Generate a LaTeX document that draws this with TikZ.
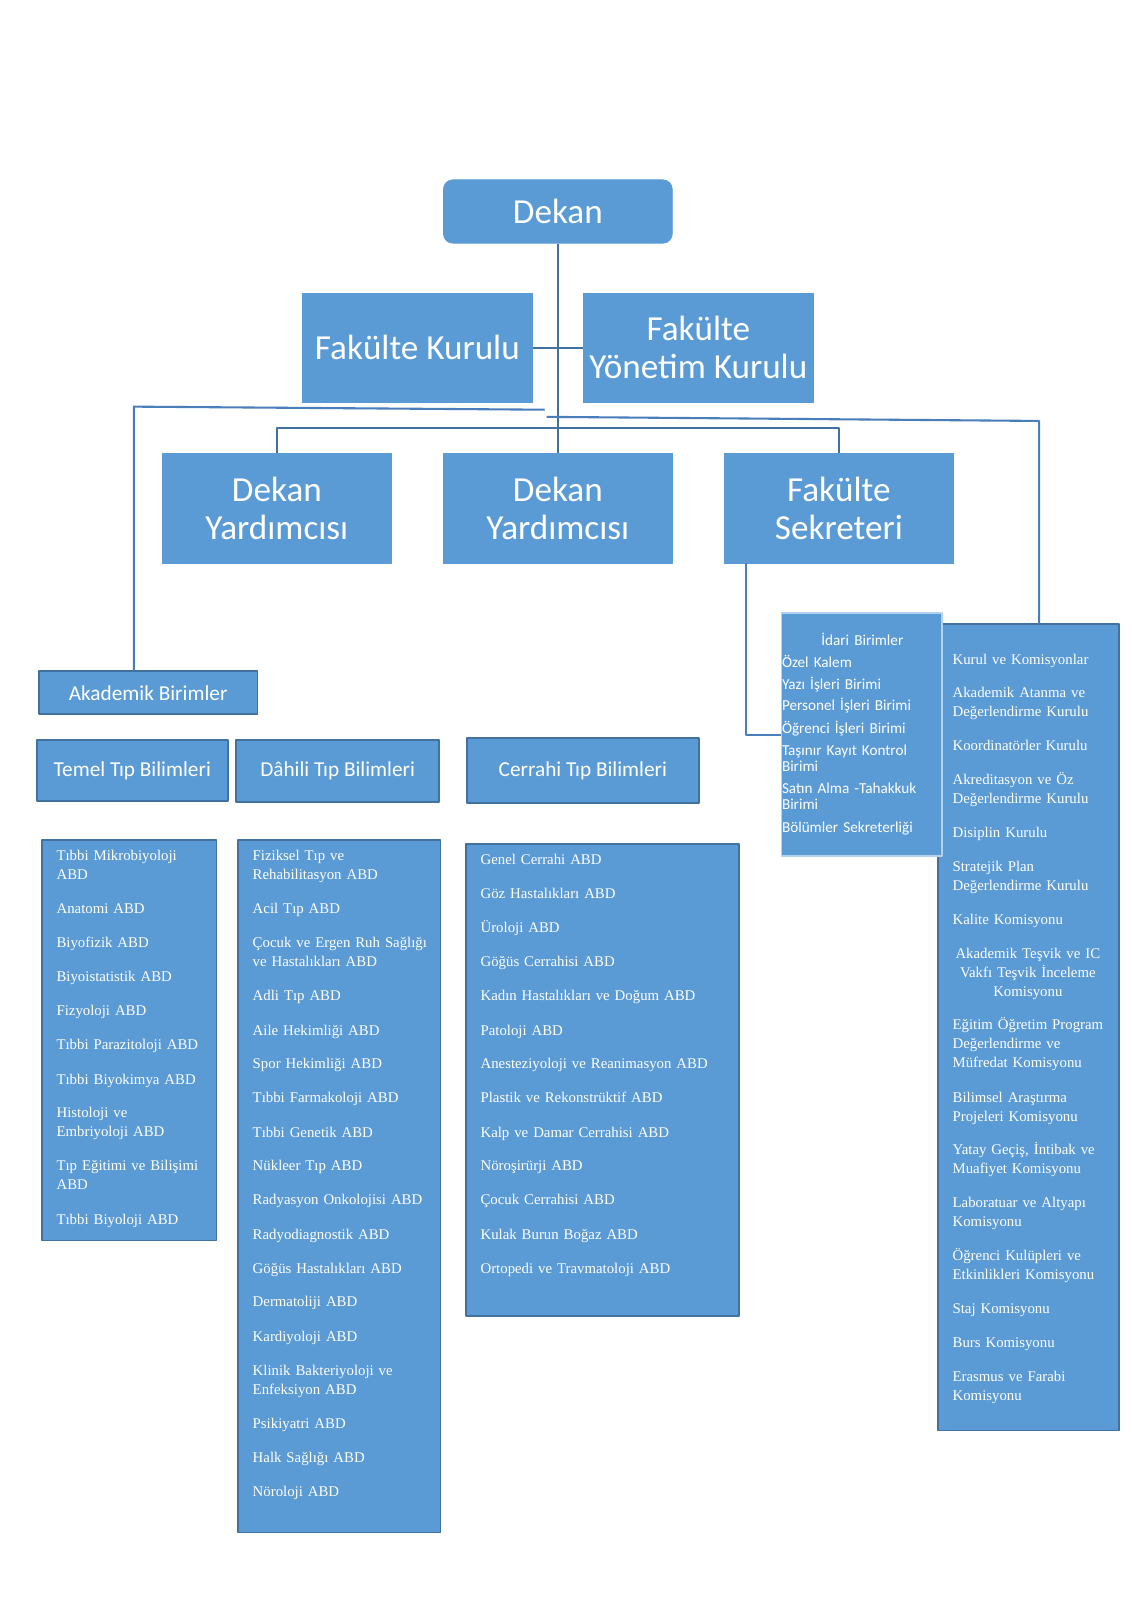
\documentclass[tikz,border=0pt]{standalone}
\usepackage{fontspec}
\setmainfont{Liberation Serif}
\newfontfamily\calibri{Carlito}
\newcommand\pxu{0.5378pt}
\definecolor{boxblue}{HTML}{5B9BD5}
\definecolor{edgeblue}{HTML}{41719C}
\definecolor{lineblue}{HTML}{4A7EBB}
\tikzset{
  box/.style={fill=boxblue, draw=boxblue, text=white, inner sep=0pt, align=center, font=\calibri\fontsize{18.5}{20}\selectfont},
  catbox/.style={fill=boxblue, draw=edgeblue, line width=0.9pt, text=white, inner sep=0pt, font=\calibri\fontsize{11.2}{13}\selectfont},
  listbox/.style={fill=boxblue, draw=edgeblue, line width=0.9pt, inner sep=0pt},
  item/.style={text=white, inner sep=0pt, anchor=base west, text width=150pt, align=left, font=\fontsize{7.8}{9.95}\selectfont},
  iditem/.style={text=white, inner sep=0pt, anchor=base west, text width=90pt, align=left, font=\calibri\fontsize{8}{8.6}\selectfont},
  tree/.style={draw=edgeblue, line width=0.9pt},
  acad/.style={draw=lineblue, line width=1.1pt}
}
\begin{document}
\begin{tikzpicture}[x=\pxu, y=-\pxu, line join=round]
\useasboundingbox (0,0) rectangle (1107,1566);
% top of the chart
\node[box, rounded corners=5pt, minimum width=224*\pxu, minimum height=62*\pxu] (dekan) at (546,207) {Dekan};
\node[box, minimum width=225*\pxu, minimum height=107*\pxu] (fkurul) at (408.5,340.5) {Fakülte Kurulu};
\node[box, minimum width=225*\pxu, minimum height=107*\pxu] (fyk) at (683.5,340.5) {Fakülte\\Yönetim Kurulu};
\node[box, minimum width=224*\pxu, minimum height=107*\pxu] (dy1) at (271,497.5) {Dekan\\Yardımcısı};
\node[box, minimum width=224*\pxu, minimum height=107*\pxu] (dy2) at (546,497.5) {Dekan\\Yardımcısı};
\node[box, minimum width=224*\pxu, minimum height=107*\pxu] (fsek) at (821,497.5) {Fakülte\\Sekreteri};
% academic units
\node[catbox, minimum width=214*\pxu, minimum height=42*\pxu] (akademik) at (145,678) {Akademik Birimler};
\node[catbox, minimum width=187*\pxu, minimum height=60*\pxu] (temel) at (129.5,754) {Temel Tıp Bilimleri};
\node[catbox, minimum width=199*\pxu, minimum height=61*\pxu] (dahili) at (330.5,754.5) {Dâhili Tıp Bilimleri};
\node[catbox, minimum width=227*\pxu, minimum height=64*\pxu] (cerrahi) at (570.5,754) {Cerrahi Tıp Bilimleri};
\node[listbox, minimum width=171*\pxu, minimum height=392*\pxu] (temelList) at (126.5,1018) {};
\node[listbox, minimum width=198*\pxu, minimum height=678*\pxu] (dahiliList) at (332,1161) {};
\node[listbox, minimum width=267*\pxu, minimum height=462*\pxu] (cerrahiList) at (589.5,1057) {};
% boards and administrative units
\node[listbox, minimum width=177*\pxu, minimum height=789*\pxu] (kurulList) at (1006.5,1005.5) {};
\node[listbox, draw=boxblue!45!white, minimum width=157*\pxu, minimum height=238*\pxu] (idariList) at (843.5,719) {};

\foreach \y/\t [count=\i] in {842/{Tıbbi Mikrobiyoloji\\ABD}, 894/{Anatomi ABD}, 927/{Biyofizik ABD},
  961/{Biyoistatistik ABD}, 994/{Fizyoloji ABD}, 1027/{Tıbbi Parazitoloji ABD}, 1061/{Tıbbi Biyokimya ABD},
  1094/{Histoloji ve\\Embriyoloji ABD}, 1146/{Tıp Eğitimi ve Bilişimi\\ABD}, 1198/{Tıbbi Biyoloji ABD}}
  \node[item] (temel\i) at (55,\y) {\t};
\foreach \y/\t [count=\i] in {842/{Fiziksel Tıp ve\\Rehabilitasyon ABD}, 894/{Acil Tıp ABD},
  927/{Çocuk ve Ergen Ruh Sağlığı\\ve Hastalıkları ABD}, 979/{Adli Tıp ABD}, 1013/{Aile Hekimliği ABD},
  1046/{Spor Hekimliği ABD}, 1079/{Tıbbi Farmakoloji ABD}, 1113/{Tıbbi Genetik ABD}, 1146/{Nükleer Tıp ABD},
  1179/{Radyasyon Onkolojisi ABD}, 1213/{Radyodiagnostik ABD}, 1246/{Göğüs Hastalıkları ABD},
  1279/{Dermatoliji ABD}, 1313/{Kardiyoloji ABD}, 1346/{Klinik Bakteriyoloji ve\\Enfeksiyon ABD},
  1398/{Psikiyatri ABD}, 1431/{Halk Sağlığı ABD}, 1465/{Nöroloji ABD}}
  \node[item] (dahili\i) at (247,\y) {\t};
\foreach \y/\t [count=\i] in {846/{Genel Cerrahi ABD}, 879/{Göz Hastalıkları ABD}, 913/{Üroloji ABD},
  946/{Göğüs Cerrahisi ABD}, 979/{Kadın Hastalıkları ve Doğum ABD}, 1013/{Patoloji ABD},
  1046/{Anesteziyoloji ve Reanimasyon ABD}, 1079/{Plastik ve Rekonstrüktif ABD},
  1113/{Kalp ve Damar Cerrahisi ABD}, 1146/{Nöroşirürji ABD}, 1179/{Çocuk Cerrahisi ABD},
  1213/{Kulak Burun Boğaz ABD}, 1246/{Ortopedi ve Travmatoloji ABD}}
  \node[item] (cerrahi\i) at (470,\y) {\t};
\foreach \y/\t [count=\i] in {650/{Kurul ve Komisyonlar}, 683/{Akademik Atanma ve\\Değerlendirme Kurulu},
  735/{Koordinatörler Kurulu}, 768/{Akreditasyon ve Öz\\Değerlendirme Kurulu}, 820/{Disiplin Kurulu},
  853/{Stratejik Plan\\Değerlendirme Kurulu}, 905/{Kalite Komisyonu},
  1008/{Eğitim Öğretim Program\\Değerlendirme ve\\Müfredat Komisyonu}, 1079/{Bilimsel Araştırma\\Projeleri Komisyonu},
  1130/{Yatay Geçiş, İntibak ve\\Muafiyet Komisyonu}, 1182/{Laboratuar ve Altyapı\\Komisyonu},
  1234/{Öğrenci Kulüpleri ve\\Etkinlikleri Komisyonu}, 1286/{Staj Komisyonu}, 1319/{Burs Komisyonu},
  1352/{Erasmus ve Farabi\\Komisyonu}}
  \node[item] (kurul\i) at (932,\y) {\t};
\node[item, anchor=base, text width=90pt, align=center] (kurulTesvik) at (1006,938) {Akademik Teşvik ve IC\\Vakfı Teşvik İnceleme\\Komisyonu};

\node[iditem, anchor=base, align=center] (idariTitle) at (844,631.5) {İdari Birimler};
\foreach \y/\t [count=\i] in {653.5/{Özel Kalem}, 674.5/{Yazı İşleri Birimi}, 695.5/{Personel İşleri Birimi},
  717.5/{Öğrenci İşleri Birimi}, 739.5/{Taşınır Kayıt Kontrol\\Birimi}, 776.5/{Satın Alma -Tahakkuk\\Birimi},
  814.5/{Bölümler Sekreterliği}}
  \node[iditem] (idari\i) at (765,\y) {\t};

% connectors
\coordinate (bar) at (546,419);
\coordinate (akTop) at (533,401);
\coordinate (akCorner) at (131,398);
\coordinate (kuStart) at (535,408);
\coordinate (kuCorner) at (1017,412);
\coordinate (sekDown) at (730,719);
\draw[tree] (dekan.south) -- (dy2.north);
\draw[tree] (fkurul.east) -- (fyk.west);
\draw[tree] (dy1.north) |- (bar) -| (fsek.north);
\draw[acad] (akTop) -- (akCorner) -- (akCorner |- akademik.north);
\draw[acad] (kuStart) -- (kuCorner) -- (kuCorner |- kurulList.north);
\draw[acad] (sekDown |- fsek.south) -- (sekDown) -- (sekDown -| idariList.west);
\end{tikzpicture}
\end{document}
